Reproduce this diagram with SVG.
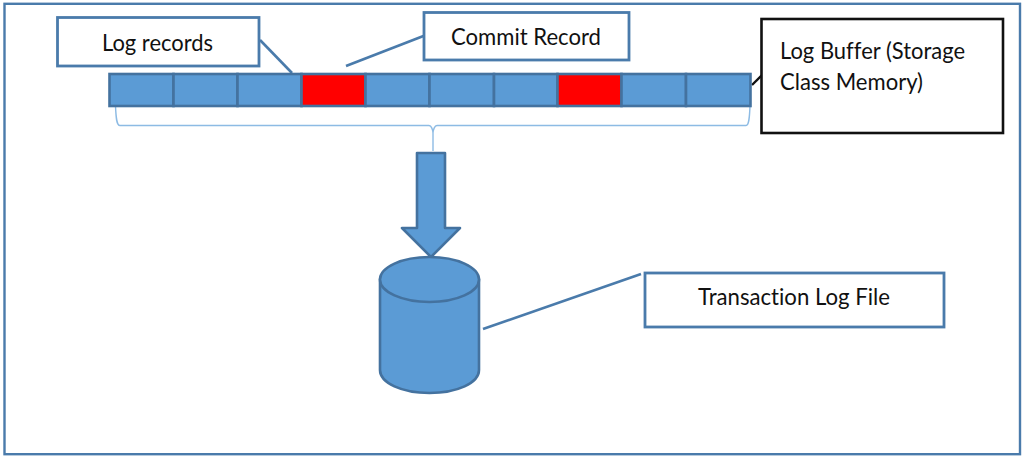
<svg xmlns="http://www.w3.org/2000/svg" width="1024" height="461" viewBox="0 0 1024 461">
  <style>
    .label { fill: #fff; stroke: #4a7bab; stroke-width: 2.8; }
    .cell { fill: #5b9bd5; stroke: #44729f; stroke-width: 2.6; }
    .commit { fill: #ff0000; stroke: #44729f; stroke-width: 2.6; }
    .shape { fill: #5b9bd5; stroke: #44729f; stroke-width: 2.6; stroke-linejoin: round; }
    .leader { fill: none; stroke: #4a7bab; stroke-width: 2.6; }
    .brace { fill: none; stroke: #8dbbe4; stroke-width: 1.4; }
    text { font-family: "Lato", "Open Sans", sans-serif; font-size: 22.5px; fill: #111; font-variant-ligatures: none; }
  </style>

  <rect width="1024" height="461" fill="#fff"/>
  <rect id="frame" x="4.500" y="3.800" width="1015.500" height="450.400" fill="none" stroke="#4a7bab" stroke-width="2.4"/>

  <g id="connectors">
    <line class="leader" x1="260" y1="40" x2="292" y2="73"/>
    <line class="leader" x1="346" y1="66" x2="426" y2="35"/>
    <line class="leader" x1="483" y1="329" x2="641" y2="274"/>
    <line x1="752" y1="85" x2="764" y2="73" stroke="#111" stroke-width="2.4"/>
    <path class="brace" d="M115.500 106 C116 118 116.500 125.500 120 125.500 H429 C431.500 125.500 432.800 130 433 133 C433.200 130 434.500 125.500 437 125.500 H746 C749 125.500 749.500 118 750 106"/>
    <line class="brace" x1="433" y1="133" x2="433" y2="151"/>
  </g>

  <g id="log-records">
    <rect class="label" x="57.500" y="17.500" width="201.500" height="48.500"/>
    <text x="102" y="51" textLength="111" lengthAdjust="spacingAndGlyphs">Log records</text>
  </g>

  <g id="commit-record">
    <rect class="label" x="424" y="12.500" width="205" height="47.500"/>
    <text x="451" y="45" textLength="150" lengthAdjust="spacingAndGlyphs">Commit Record</text>
  </g>

  <g id="log-buffer-label">
    <rect x="761.500" y="19" width="241.500" height="114" fill="#fff" stroke="#111" stroke-width="2.600"/>
    <text x="780" y="59" textLength="185" lengthAdjust="spacingAndGlyphs">Log Buffer (Storage</text>
    <text x="780" y="90" textLength="143" lengthAdjust="spacingAndGlyphs">Class Memory)</text>
  </g>

  <g id="log-buffer">
    <rect class="cell" x="109.500" y="74" width="64" height="32"/>
    <rect class="cell" x="173.500" y="74" width="64" height="32"/>
    <rect class="cell" x="237.500" y="74" width="64" height="32"/>
    <rect class="commit" x="301.500" y="74" width="64" height="32"/>
    <rect class="cell" x="365.500" y="74" width="64" height="32"/>
    <rect class="cell" x="429.500" y="74" width="64.500" height="32"/>
    <rect class="cell" x="494" y="74" width="63.500" height="32"/>
    <rect class="commit" x="557.500" y="74" width="64" height="32"/>
    <rect class="cell" x="621.500" y="74" width="64.500" height="32"/>
    <rect class="cell" x="686" y="74" width="64.500" height="32"/>
  </g>

  <g id="flush-arrow">
    <polygon class="shape" points="417,153 445,153 445,228 460,228 431,257 402,228 417,228"/>
  </g>

  <g id="log-file-cylinder">
    <path class="shape" d="M380 279 V370 C380 383 402 393 429.500 393 C457 393 479 383 479 370 V279 Z"/>
    <ellipse class="shape" cx="429.500" cy="279.500" rx="49.500" ry="22.500"/>
  </g>

  <g id="transaction-log-file">
    <rect class="label" x="645" y="273" width="299" height="54"/>
    <text x="698" y="305" textLength="192" lengthAdjust="spacingAndGlyphs">Transaction Log File</text>
  </g>
</svg>
